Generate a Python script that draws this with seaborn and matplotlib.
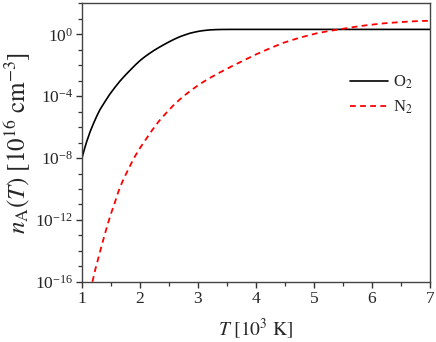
import numpy as np
import pandas as pd
import matplotlib
matplotlib.use("Agg")
import matplotlib.pyplot as plt
from matplotlib.ticker import FixedLocator, LogFormatterSciNotation, NullFormatter
import seaborn as sns

# ---- data ----
o2_T = [1.0, 1.04, 1.08, 1.14, 1.2, 1.26, 1.31, 1.4, 1.48, 1.57, 1.66, 1.75,
        1.83, 1.92, 2.0, 2.08, 2.17, 2.25, 2.34, 2.43, 2.52, 2.6, 2.69, 2.78,
        2.86, 2.95, 3.03, 3.12, 3.2, 3.3, 3.4, 3.55, 4.0, 5.0, 6.0, 7.0]
o2_log10_n = [-8.0, -7.45, -6.95, -6.3, -5.75, -5.25, -4.87, -4.33, -3.87,
              -3.42, -3.0, -2.63, -2.32, -1.98, -1.7, -1.46, -1.22, -1.02,
              -0.82, -0.63, -0.45, -0.3, -0.15, -0.03, 0.07, 0.15, 0.21,
              0.255, 0.285, 0.305, 0.315, 0.32, 0.32, 0.32, 0.32, 0.32]

n2_T = [1.18, 1.23, 1.28, 1.34, 1.4, 1.45, 1.5, 1.56, 1.63, 1.7, 1.77, 1.85,
        1.92, 2.0, 2.1, 2.2, 2.33, 2.46, 2.6, 2.75, 2.9, 3.03, 3.2, 3.38,
        3.58, 3.78, 4.0, 4.23, 4.47, 4.75, 5.05, 5.25, 5.45, 5.68, 5.91, 6.2,
        6.48, 6.75, 7.0]
n2_log10_n = [-16.0, -15.2, -14.5, -13.65, -12.85, -12.2, -11.6, -10.95,
              -10.15, -9.5, -8.95, -8.35, -7.85, -7.35, -6.8, -6.25, -5.6,
              -5.05, -4.5, -4.0, -3.57, -3.22, -2.83, -2.46, -2.07, -1.7,
              -1.3, -0.92, -0.55, -0.22, 0.07, 0.21, 0.33, 0.47, 0.59, 0.71,
              0.79, 0.85, 0.88]

series_labels = ["O$_2$", "N$_2$"]
x_ticks = [1, 2, 3, 4, 5, 6, 7]
y_major_exp = [-16, -12, -8, -4, 0]

sns.set_style("ticks")
plt.rcParams["font.family"] = ["Liberation Serif", "DejaVu Serif"]
plt.rcParams["mathtext.fontset"] = "stix"

o2 = pd.DataFrame({"T": o2_T, "n": np.power(10.0, o2_log10_n)})
n2 = pd.DataFrame({"T": n2_T, "n": np.power(10.0, n2_log10_n)})

fig = plt.figure(figsize=(4.36, 3.42), dpi=100)
ax = fig.add_axes([0.188, 0.176, 0.798, 0.814])

sns.lineplot(data=o2, x="T", y="n", ax=ax, color="black", lw=1.2,
             label=series_labels[0], estimator=None, sort=False)
sns.lineplot(data=n2, x="T", y="n", ax=ax, color="#ff0000", lw=1.3,
             linestyle=(0, (3.2, 2.4)), label=series_labels[1],
             estimator=None, sort=False)

ax.set_yscale("log")
ax.set_xlim(1, 7)
ax.set_ylim(1e-16, 1e2)

ax.xaxis.set_major_locator(FixedLocator(x_ticks))
ax.xaxis.set_minor_locator(FixedLocator(np.arange(1.5, 7, 1.0)))
ax.yaxis.set_major_locator(FixedLocator([10.0 ** e for e in y_major_exp]))
ax.yaxis.set_minor_locator(FixedLocator([10.0 ** e for e in range(-16, 3)
                                         if e not in y_major_exp]))
ax.yaxis.set_major_formatter(LogFormatterSciNotation())
ax.yaxis.set_minor_formatter(NullFormatter())

ax.tick_params(which="major", direction="out", length=4.5, width=1.0,
               labelsize=12.5, color="#333333", pad=2)
ax.tick_params(which="minor", direction="out", length=3, width=0.9,
               color="#333333")
for s in ax.spines.values():
    s.set_color("#444444")
    s.set_linewidth(1.0)

ax.set_xlabel(r"$T\ [10^{3}\ \mathrm{K}]$", fontsize=14, labelpad=7)
ax.set_ylabel(r"$n_{\mathrm{A}}(T)\ [10^{16}\ \mathrm{cm}^{-3}]$",
              fontsize=18, labelpad=1)

ax.legend(loc="upper left", bbox_to_anchor=(0.727, 0.80), frameon=False,
          fontsize=12, handlelength=2.3, handletextpad=0.3, labelspacing=0.45)

fig.savefig("out.png", dpi=100)
